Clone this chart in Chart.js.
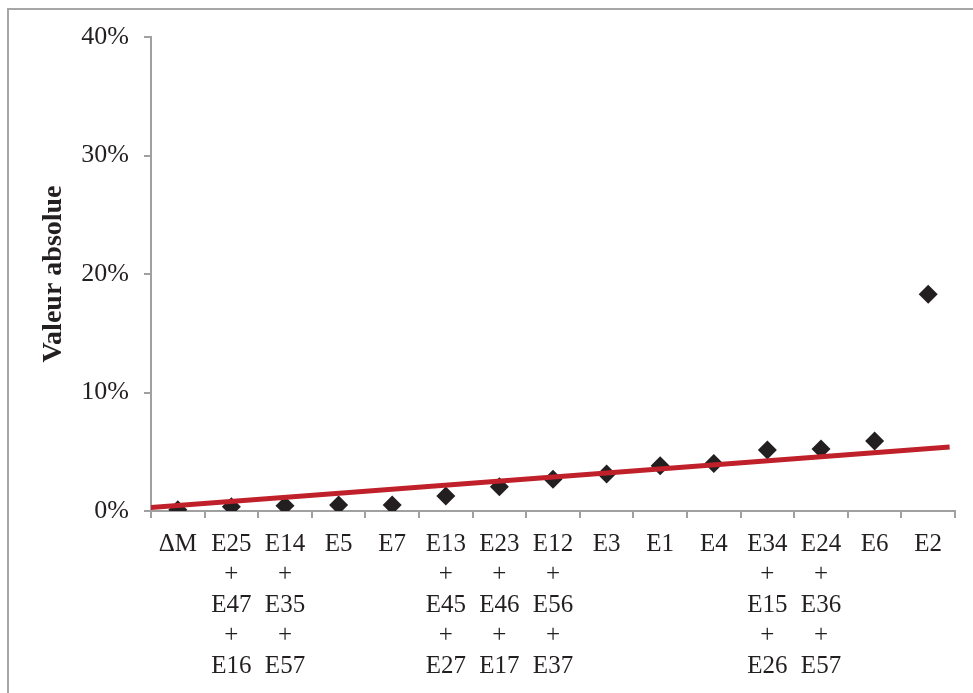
<!DOCTYPE html>
<html>
<head>
<meta charset="utf-8">
<script src="https://cdn.jsdelivr.net/npm/chart.js@4/dist/chart.umd.min.js"></script>
<style>
  html, body { margin:0; padding:0; background:#fff; }
  #wrap { position:relative; width:973px; height:693px; overflow:hidden; }
  #frame { position:absolute; left:7px; top:8px; width:1000px; height:1000px; border-left:2px solid #a6a6a6; border-top:2px solid #a6a6a6; }
  canvas { position:absolute; left:0; top:0; }
</style>
</head>
<body>
<div id="wrap">
  <div id="frame"></div>
  <canvas id="c" width="973" height="693"></canvas>
</div>
<script>
// categories (multi-line tick labels)
const categories = [
  ['\u0394M'],
  ['E25','+','E47','+','E16'],
  ['E14','+','E35','+','E57'],
  ['E5'],
  ['E7'],
  ['E13','+','E45','+','E27'],
  ['E23','+','E46','+','E17'],
  ['E12','+','E56','+','E37'],
  ['E3'],
  ['E1'],
  ['E4'],
  ['E34','+','E15','+','E26'],
  ['E24','+','E36','+','E57'],
  ['E6'],
  ['E2']
];
// absolute values, in %
const values = [0.1, 0.36, 0.45, 0.5, 0.5, 1.27, 2.05, 2.67, 3.12, 3.82, 4.0, 5.15, 5.23, 5.9, 18.3];
// trend line end points (category index, %)
const trendX = [-0.55, 14.4];
const trendY = [0.28, 5.4];
const yTicks = [0, 10, 20, 30, 40];

const axisGray = '#a0a0a0';
const textColor = '#231f20';
const serif = "'Liberation Serif', 'Times New Roman', serif";

new Chart(document.getElementById('c').getContext('2d'), {
  type: 'line',
  data: {
    labels: categories,
    datasets: [
      {
        label: 'Valeur absolue',
        data: values,
        showLine: false,
        pointStyle: 'rectRot',
        pointRadius: 9.5,
        pointBackgroundColor: textColor,
        pointBorderColor: textColor,
        pointBorderWidth: 0,
        order: 2
      },
      {
        label: 'trend',
        xAxisID: 'xt',
        data: trendX.map((x, i) => ({ x: x, y: trendY[i] })),
        borderColor: '#c0202a',
        borderWidth: 5,
        pointRadius: 0,
        order: 1
      }
    ]
  },
  options: {
    responsive: false,
    animation: false,
    layout: { padding: { top: 37, right: 18, left: 0, bottom: 0 } },
    plugins: { legend: { display: false }, tooltip: { enabled: false } },
    scales: {
      x: {
        type: 'category',
        offset: true,
        grid: { drawOnChartArea: false, offset: true, tickLength: 7, color: axisGray, lineWidth: 2 },
        border: { color: axisGray, width: 2 },
        ticks: {
          autoSkip: false, maxRotation: 0, minRotation: 0, padding: 11,
          color: textColor,
          font: { family: serif, size: 25, lineHeight: 1.22 }
        },
        afterFit: s => { s.height = 693 - 511; }
      },
      xt: {
        type: 'linear',
        display: false,
        min: -0.5,
        max: 14.5
      },
      y: {
        min: 0,
        max: 40,
        afterBuildTicks: s => { s.ticks = yTicks.map(v => ({ value: v })); },
        grid: { drawOnChartArea: false, tickLength: 7, color: axisGray, lineWidth: 2 },
        border: { color: axisGray, width: 2 },
        ticks: {
          padding: 15,
          color: textColor,
          font: { family: serif, size: 26 },
          callback: v => v + '%'
        },
        title: {
          display: true,
          text: 'Valeur absolue',
          color: textColor,
          font: { family: serif, size: 28, weight: 'bold' },
          padding: { top: 37, bottom: 0 }
        },
        afterFit: s => { s.width = 151; }
      }
    }
  }
});
</script>
</body>
</html>
